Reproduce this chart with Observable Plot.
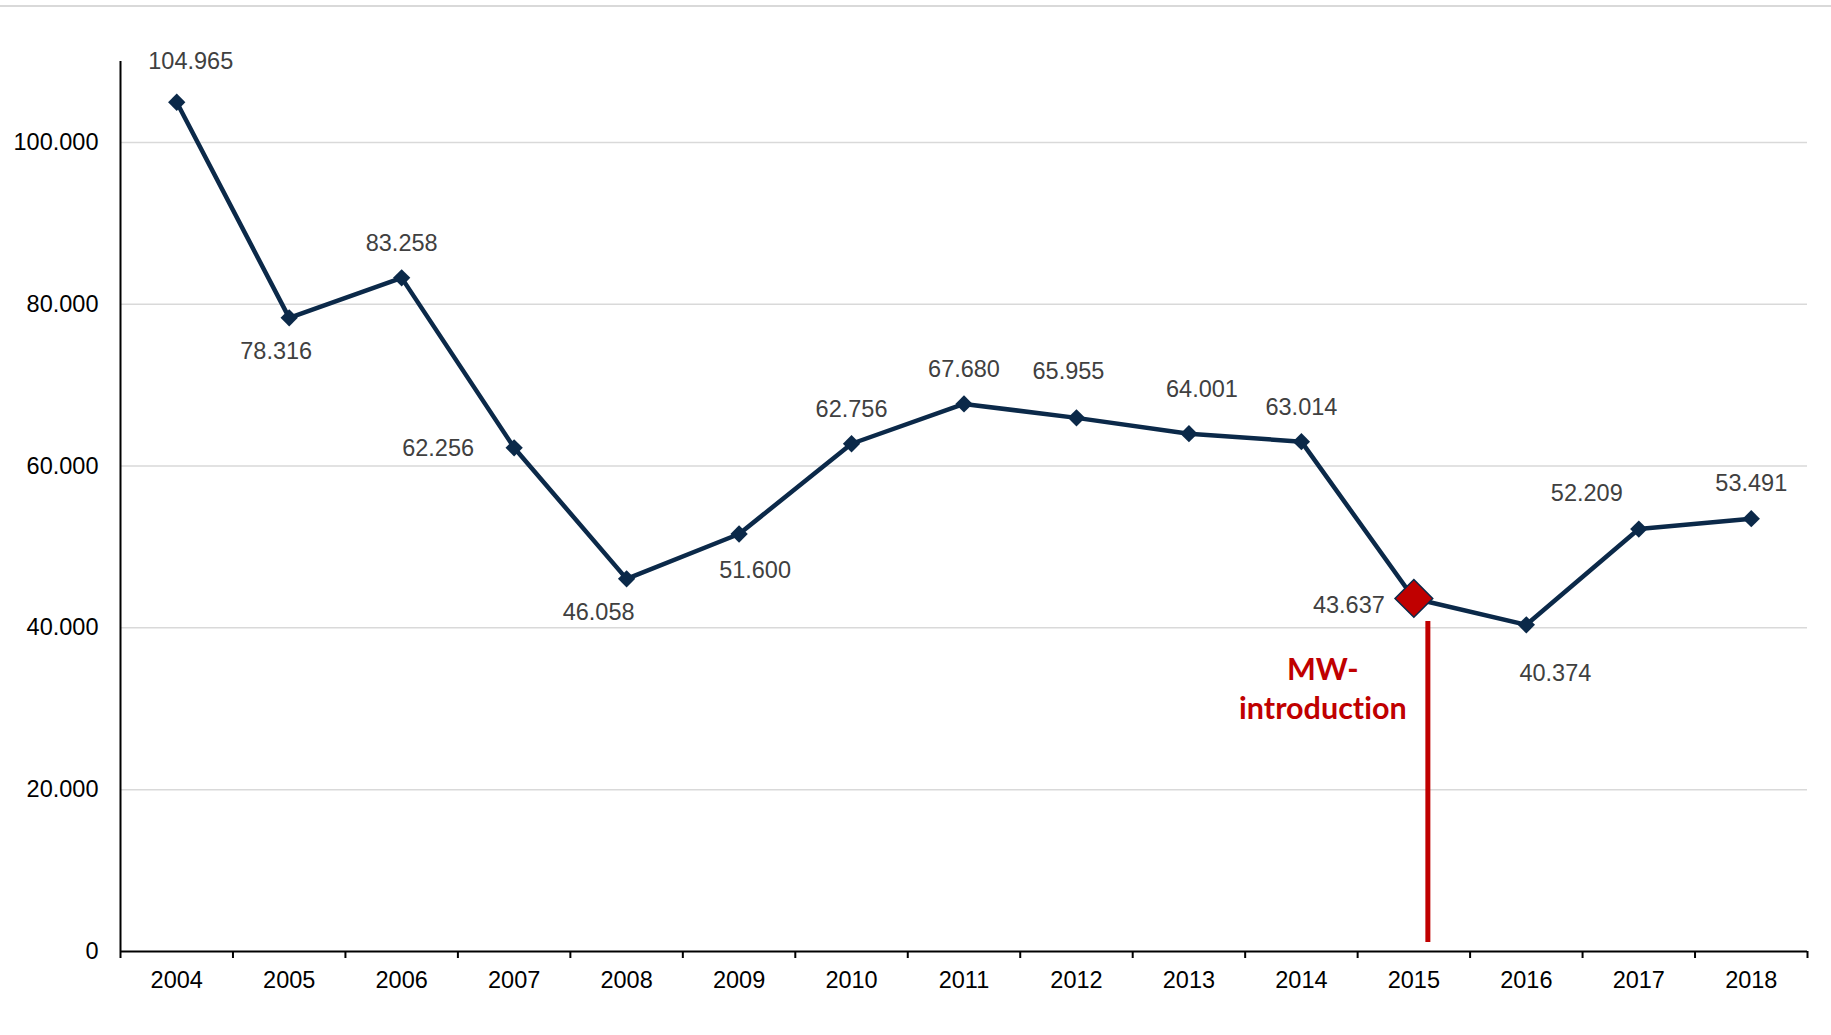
<!DOCTYPE html>
<html><head><meta charset="utf-8">
<script src="https://cdn.jsdelivr.net/npm/d3@7"></script>
<script src="https://cdn.jsdelivr.net/npm/@observablehq/plot@0.6"></script>
<style>
html,body{margin:0;padding:0;background:#fff;}
#topline{position:absolute;left:0;top:5px;width:1831px;height:2px;background:#d9d9d9;}
#chart{position:absolute;left:0;top:0;}
svg text{font-variant-ligatures:none;font-feature-settings:"liga" 0,"clig" 0;}
</style></head><body>
<div id="topline"></div><div id="chart"></div>
<script>
// ---- data ----
const years = ["2004","2005","2006","2007","2008","2009","2010","2011","2012","2013","2014","2015","2016","2017","2018"];
const values = [104965, 78316, 83258, 62256, 46058, 51600, 62756, 67680, 65955, 64001, 63014, 43637, 40374, 52209, 53491];
const yTicks = [0, 20000, 40000, 60000, 80000, 100000];
const yMax = 110000;
const highlightYear = "2015";
const annotationText = "MW-\nintroduction";
const markerRange = [1100, 40800];   // extent of the red marker line (data units)
const annotationY = 32700;

// ---- label placement (pixels, per point) ----
const labelDx = [14, -13, 0, -76, -28, 16, 0, 0, -8, 13, 0, -65, 29, -52, 0];
const labelDy = [-41, 34, -34, 1, 34, 36, -34, -34, -46, -44, -34, 7, 49, -36, -35];

const W = 1831, H = 1035;
const mL = 120, mR = 24, mT = 61, mB = 84;
const navy = "#0b2949", red = "#C00000";
const bw = (W - mL - mR) / years.length;
const tickLen = 7 * yMax / (H - mT - mB);

const data = years.map((year, i) => ({year, value: values[i]}));
const fmt = v => d3.format(",")(v).replace(/,/g, ".");

const labelMarks = data.map((d, i) => Plot.text([d], {
  x: "year", y: "value", text: d => fmt(d.value),
  dx: labelDx[i], dy: labelDy[i], fill: "#404040"
}));

const chart = Plot.plot({
  width: W, height: H,
  marginLeft: mL, marginRight: mR, marginTop: mT, marginBottom: mB,
  style: {fontFamily: "Liberation Sans, Arial, sans-serif", fontSize: "23.5px", color: "#000", background: "transparent"},
  x: {type: "band", domain: years, padding: 0, round: false, tickSize: 0, tickPadding: 20, label: null},
  y: {domain: [0, yMax], ticks: yTicks, tickFormat: fmt, tickSize: 0, tickPadding: 22, label: null},
  marks: [
    Plot.ruleY(yTicks.filter(t => t > 0), {stroke: "#d9d9d9", strokeWidth: 1.5}),
    Plot.ruleY([0], {stroke: "#000", strokeWidth: 2}),
    Plot.ruleX([years[0]], {dx: -bw / 2, y1: 0, y2: yMax, stroke: "#000", strokeWidth: 2}),
    Plot.ruleX(years, {dx: -bw / 2, y1: 0, y2: -tickLen, stroke: "#000", strokeWidth: 2}),
    Plot.ruleX([years[years.length - 1]], {dx: bw / 2, y1: 0, y2: -tickLen, stroke: "#000", strokeWidth: 2}),
    Plot.line(data, {x: "year", y: "value", stroke: navy, strokeWidth: 4.5}),
    Plot.dot(data, {x: "year", y: "value", symbol: "diamond2", r: 7.8, fill: navy}),
    Plot.ruleX([highlightYear], {dx: 14, y1: markerRange[0], y2: markerRange[1], stroke: red, strokeWidth: 5,
      style: "filter: drop-shadow(1px 1px 1px rgba(0,0,0,0.3))"}),
    Plot.dot(data.filter(d => d.year === highlightYear), {x: "year", y: "value", symbol: "diamond2", r: 17, fill: red, stroke: navy, strokeWidth: 1.5}),
    ...labelMarks,
    Plot.text([{year: highlightYear, value: annotationY}], {x: "year", y: "value", text: () => annotationText,
      dx: -91, fill: red, fontWeight: "bold", fontSize: 30.5, lineHeight: 1.28,
      fontFamily: "Lato, sans-serif"})
  ]
});
document.getElementById("chart").appendChild(chart);
</script>
</body></html>
